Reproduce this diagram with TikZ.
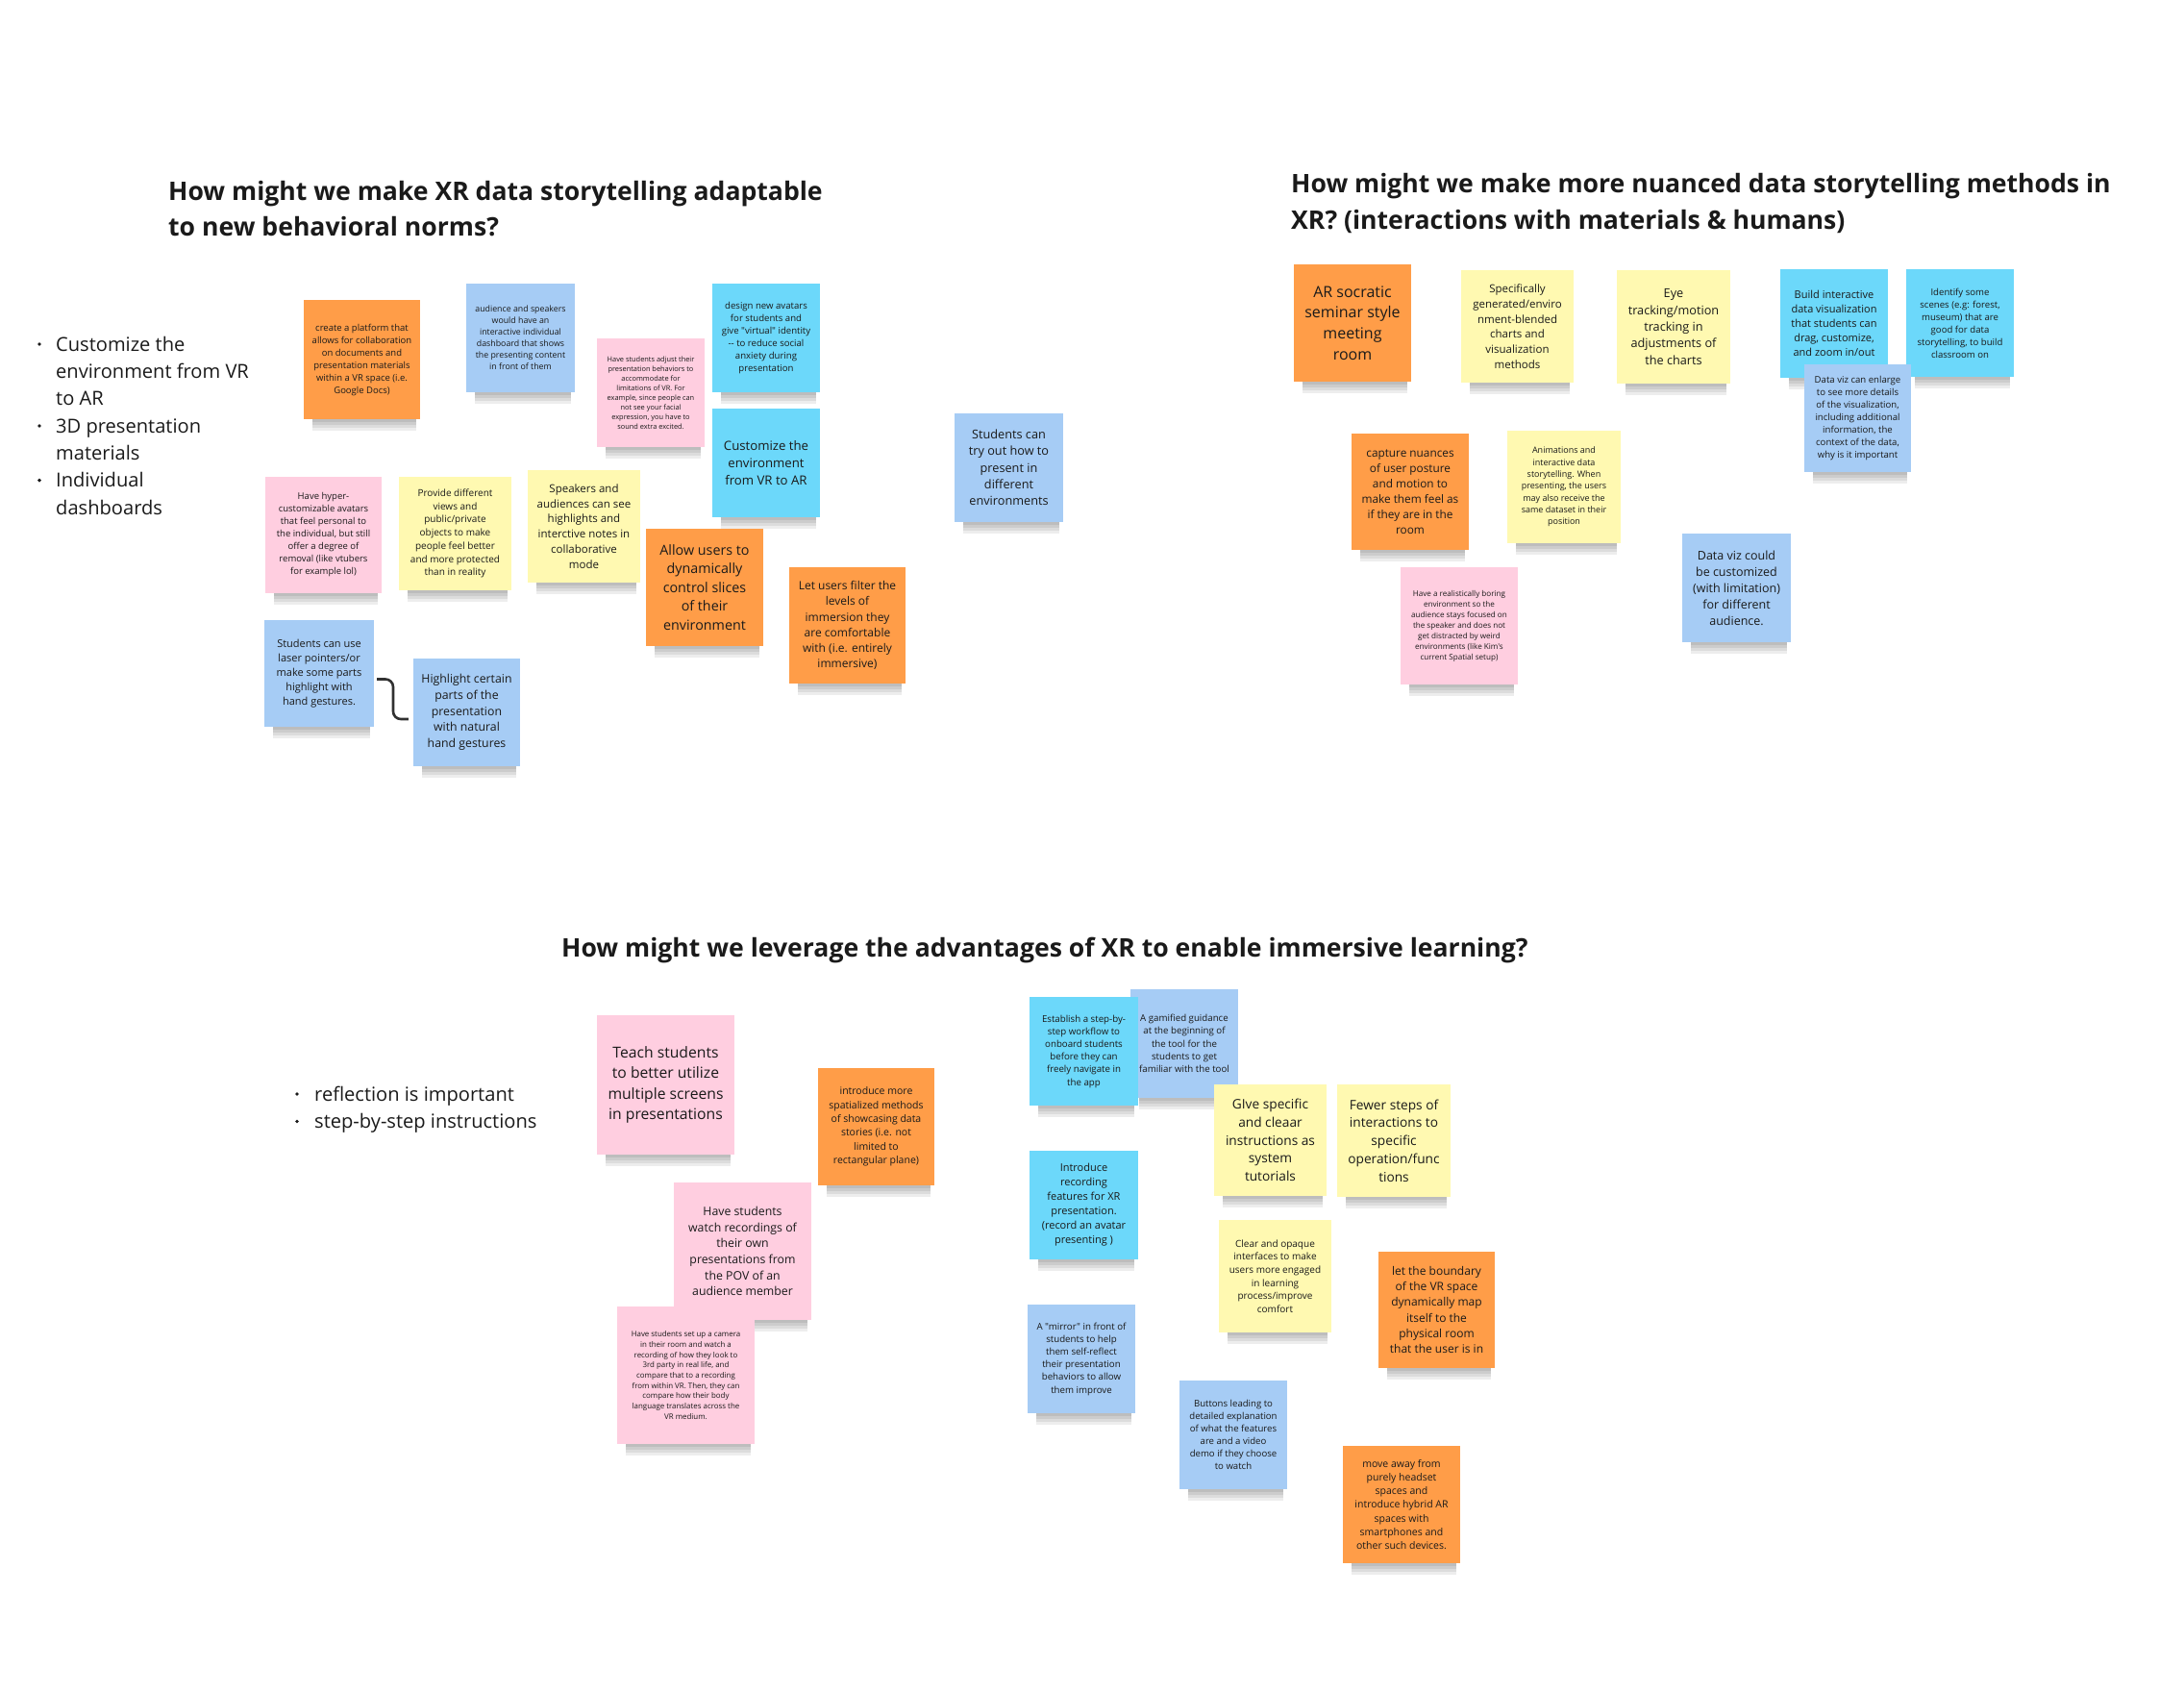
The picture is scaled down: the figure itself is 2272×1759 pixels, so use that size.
\documentclass[tikz,border=0pt]{standalone}
\usepackage{fontspec}
\newfontfamily\osans{Open Sans}
\definecolor{cOrange}{HTML}{FF9D48}
\definecolor{cYellow}{HTML}{FFF9B1}
\definecolor{cPink}{HTML}{FFCEE0}
\definecolor{cLBlue}{HTML}{A6CCF5}
\definecolor{cCyan}{HTML}{6CD8FA}
\definecolor{ink}{HTML}{1A1A1A}
\tikzset{
  fs/.style 2 args={font={\osans\fontsize{#1}{#2}\selectfont}},
  note/.style={rectangle, inner sep=2pt, align=center, text=ink},
  shadowband/.style={fill=black, opacity=0.07, draw=none},
  head/.style={anchor=base west, inner sep=0pt, text=ink, font={\osans\bfseries\fontsize{26.6}{35}\selectfont}},
  item/.style={anchor=base west, inner sep=0pt, text=ink, font={\osans\fontsize{20.1}{28}\selectfont}},
  bul/.style={circle, fill=ink, inner sep=0pt, minimum size=3.8pt},
  conn/.style={draw=ink!90, line width=2.6pt, rounded corners=8pt},
}
% shadow band below a note (drawn right after the note)
\newcommand\shd[1]{%
  \foreach \k in {3,6,9,12}{%
    \fill[shadowband] ([xshift=9pt]#1.south west) rectangle ([shift={(-4,\k)}]#1.south east);}}
\begin{document}
\begin{tikzpicture}[x=1pt, y=-1pt]
\useasboundingbox (0,0) rectangle (2272,1759);
\fill[white] (0,0) rectangle (2272,1759);

% ---------- headings ----------
\node[head] (h1a) at (175,208) {How might we make XR data storytelling adaptable};
\node[head] (h1b) at (175,245.5) {to new behavioral norms?};
\node[head] (h2a) at (1343,200.5) {How might we make more nuanced data storytelling methods in};
\node[head] (h2b) at (1343,238.3) {XR? (interactions with materials \& humans)};
\node[head] (h3) at (584,995) {How might we leverage the advantages of XR to enable immersive learning?};

% ---------- bullet lists ----------
\node[bul] (b1) at (41,358) {};
\node[bul] (b2) at (41,443) {};
\node[bul] (b3) at (41,499.6) {};
\node[item] (l1) at (58,365) {Customize the};
\node[item] (l2) at (58,393.3) {environment from VR};
\node[item] (l3) at (58,421.6) {to AR};
\node[item] (l4) at (58,450) {3D presentation};
\node[item] (l5) at (58,478.3) {materials};
\node[item] (l6) at (58,506.6) {Individual};
\node[item] (l7) at (58,535) {dashboards};

\node[bul] (b4) at (309,1138) {};
\node[bul] (b5) at (309,1166.5) {};
\node[item] (m1) at (327,1145) {reflection is important};
\node[item] (m2) at (327,1173.5) {step-by-step instructions};

% ---------- section 1 notes ----------
\node[note, fill=cOrange, minimum width=121pt, minimum height=124pt, fs={9.5}{13}] (n1) at (376.5,374)
  {create a platform that\\allows for collaboration\\on documents and\\presentation materials\\within a VR space (i.e.\\Google Docs)};
\shd{n1}
\node[note, fill=cLBlue, minimum width=113pt, minimum height=113pt, fs={8.8}{12}] (n2) at (541.5,351.5)
  {audience and speakers\\would have an\\interactive individual\\dashboard that shows\\the presenting content\\in front of them};
\shd{n2}
\node[note, fill=cPink, minimum width=121pt, minimum height=121pt, fs={9.5}{13}] (n3) at (336.5,556.5)
  {Have hyper-\\customizable avatars\\that feel personal to\\the individual, but still\\offer a degree of\\removal (like vtubers\\for example lol)};
\shd{n3}
\node[note, fill=cYellow, minimum width=117pt, minimum height=118pt, fs={10}{13.7}] (n4) at (473.5,555)
  {Provide different\\views and\\public/private\\objects to make\\people feel better\\and more protected\\than in reality};
\shd{n4}
\node[note, fill=cYellow, minimum width=117pt, minimum height=117pt, fs={11.5}{15.7}] (n5) at (607.5,547.5)
  {Speakers and\\audiences can see\\highlights and\\interctive notes in\\collaborative\\mode};
\shd{n5}
\node[note, fill=cPink, minimum width=112pt, minimum height=113pt, fs={7.4}{10}] (n6) at (677,408.5)
  {Have students adjust their\\presentation behaviors to\\accommodate for\\limitations of VR. For\\example, since people can\\not see your facial\\expression, you have to\\sound extra excited.};
\shd{n6}
\node[note, fill=cCyan, minimum width=112pt, minimum height=113pt, fs={9.6}{13}] (n7) at (797,351.5)
  {design new avatars\\for students and\\give "virtual" identity\\\mbox{-}\mbox{-} to reduce social\\anxiety during\\presentation};
\shd{n7}
\node[note, fill=cCyan, minimum width=112pt, minimum height=113pt, fs={13.2}{18}] (n8) at (797,481.5)
  {Customize the\\environment\\from VR to AR};
\shd{n8}
\node[note, fill=cOrange, minimum width=122pt, minimum height=122pt, fs={14.3}{19.5}] (n9) at (733,611)
  {Allow users to\\dynamically\\control slices\\of their\\environment};
\shd{n9}
\node[note, fill=cOrange, minimum width=121pt, minimum height=121pt, fs={12}{16.3}] (n10) at (881.5,650.5)
  {Let users filter the\\levels of\\immersion they\\are comfortable\\with (i.e. entirely\\immersive)};
\shd{n10}
\node[note, fill=cLBlue, minimum width=114pt, minimum height=111pt, fs={11}{15}] (n11) at (332,700.5)
  {Students can use\\laser pointers/or\\make some parts\\highlight with\\hand gestures.};
\shd{n11}
\node[note, fill=cLBlue, minimum width=111pt, minimum height=112pt, fs={12.3}{16.7}] (n12) at (485.5,741)
  {Highlight certain\\parts of the\\presentation\\with natural\\hand gestures};
\shd{n12}
\node[note, fill=cLBlue, minimum width=113pt, minimum height=113pt, fs={12.7}{17.3}] (n13) at (1049.5,486.5)
  {Students can\\try out how to\\present in\\different\\environments};
\shd{n13}

\coordinate (cmid) at (409,726);
\draw[conn] ([shift={(3,6)}]n11.east) -| (cmid) |- ([shift={(-5,7)}]n12.west);

% ---------- section 2 notes ----------
\node[note, fill=cOrange, minimum width=122pt, minimum height=122pt, fs={16}{21.7}] (n14) at (1407,336)
  {AR socratic\\seminar style\\meeting\\room};
\shd{n14}
\node[note, fill=cYellow, minimum width=117pt, minimum height=117pt, fs={11.5}{15.7}] (n15) at (1578.5,339.5)
  {Specifically\\generated/enviro\\nment-blended\\charts and\\visualization\\methods};
\shd{n15}
\node[note, fill=cYellow, minimum width=118pt, minimum height=118pt, fs={12.7}{17.3}] (n19) at (1741,340)
  {Eye\\tracking/motion\\tracking in\\adjustments of\\the charts};
\shd{n19}
\node[note, fill=cCyan, minimum width=112pt, minimum height=113pt, fs={11}{15}] (n20) at (1908,336.5)
  {Build interactive\\data visualization\\that students can\\drag, customize,\\and zoom in/out};
\shd{n20}
\node[note, fill=cCyan, minimum width=112pt, minimum height=112pt, fs={9.6}{13}] (n21) at (2039,336)
  {Identify some\\scenes (e.g: forest,\\museum) that are\\good for data\\storytelling, to build\\classroom on};
\shd{n21}
\node[note, fill=cLBlue, minimum width=111pt, minimum height=112pt, fs={9.6}{13}] (n22) at (1932.5,435)
  {Data viz can enlarge\\to see more details\\of the visualization,\\including additional\\information, the\\context of the data,\\why is it important};
\shd{n22}
\node[note, fill=cOrange, minimum width=122pt, minimum height=121pt, fs={11.8}{16}] (n16) at (1467,511.5)
  {capture nuances\\of user posture\\and motion to\\make them feel as\\if they are in the\\room};
\shd{n16}
\node[note, fill=cYellow, minimum width=118pt, minimum height=117pt, fs={9}{12.3}] (n17) at (1627,506.5)
  {Animations and\\interactive data\\storytelling. When\\presenting, the users\\may also receive the\\same dataset in their\\position};
\shd{n17}
\node[note, fill=cPink, minimum width=122pt, minimum height=122pt, fs={8.1}{11}] (n18) at (1518,651)
  {Have a realistically boring\\environment so the\\audience stays focused on\\the speaker and does not\\get distracted by weird\\environments (like Kim's\\current Spatial setup)};
\shd{n18}
\node[note, fill=cLBlue, minimum width=113pt, minimum height=113pt, fs={12.5}{17}] (n23) at (1806.5,611.5)
  {Data viz could\\be customized\\(with limitation)\\for different\\audience.};
\shd{n23}

% ---------- section 3 notes ----------
\node[note, fill=cPink, minimum width=143pt, minimum height=145pt, fs={15.7}{21.3}] (n24) at (692.5,1128.5)
  {Teach students\\to better utilize\\multiple screens\\in presentations};
\shd{n24}
\node[note, fill=cOrange, minimum width=121pt, minimum height=122pt, fs={10.5}{14.3}] (n25) at (911.5,1172)
  {introduce more\\spatialized methods\\of showcasing data\\stories (i.e. not\\limited to\\rectangular plane)};
\shd{n25}
\node[note, fill=cPink, minimum width=143pt, minimum height=143pt, fs={12.3}{16.7}] (n26) at (772.5,1301.5)
  {Have students\\watch recordings of\\their own\\presentations from\\the POV of an\\audience member};
\shd{n26}
\node[note, fill=cPink, minimum width=143pt, minimum height=143pt, fs={7.9}{10.7}] (n27) at (713.5,1430.5)
  {Have students set up a camera\\in their room and watch a\\recording of how they look to\\3rd party in real life, and\\compare that to a recording\\from within VR. Then, they can\\compare how their body\\language translates across the\\VR medium.};
\shd{n27}
\node[note, fill=cLBlue, minimum width=112pt, minimum height=113pt, fs={9.7}{13.2}] (n29) at (1232,1085.5)
  {A gamified guidance\\at the beginning of\\the tool for the\\students to get\\familiar with the tool};
\shd{n29}
\node[note, fill=cCyan, minimum width=113pt, minimum height=113pt, fs={9.7}{13.2}] (n28) at (1127.5,1093.5)
  {Establish a step-by-\\step workflow to\\onboard students\\before they can\\freely navigate in\\the app};
\shd{n28}
\node[note, fill=cCyan, minimum width=113pt, minimum height=113pt, fs={11}{15}] (n30) at (1127.5,1253.5)
  {Introduce\\recording\\features for XR\\presentation.\\(record an avatar\\presenting )};
\shd{n30}
\node[note, fill=cLBlue, minimum width=112pt, minimum height=113pt, fs={9.7}{13.2}] (n31) at (1125,1413.5)
  {A "mirror" in front of\\students to help\\them self-reflect\\their presentation\\behaviors to allow\\them improve};
\shd{n31}
\node[note, fill=cYellow, minimum width=117pt, minimum height=116pt, fs={13.7}{18.7}] (n33) at (1321.5,1186)
  {GIve specific\\and cleaar\\instructions as\\system\\tutorials};
\shd{n33}
\node[note, fill=cYellow, minimum width=118pt, minimum height=117pt, fs={13.7}{18.7}] (n34) at (1450,1186.5)
  {Fewer steps of\\interactions to\\specific\\operation/func\\tions};
\shd{n34}
\node[note, fill=cYellow, minimum width=117pt, minimum height=117pt, fs={10}{13.7}] (n35) at (1326.5,1327.5)
  {Clear and opaque\\interfaces to make\\users more engaged\\in learning\\process/improve\\comfort};
\shd{n35}
\node[note, fill=cOrange, minimum width=121pt, minimum height=121pt, fs={12}{16.3}] (n36) at (1494.5,1362.5)
  {let the boundary\\of the VR space\\dynamically map\\itself to the\\physical room\\that the user is in};
\shd{n36}
\node[note, fill=cLBlue, minimum width=112pt, minimum height=113pt, fs={9.6}{13}] (n32) at (1283,1492.5)
  {Buttons leading to\\detailed explanation\\of what the features\\are and a video\\demo if they choose\\to watch};
\shd{n32}
\node[note, fill=cOrange, minimum width=122pt, minimum height=122pt, fs={10.5}{14.3}] (n37) at (1458,1565)
  {move away from\\purely headset\\spaces and\\introduce hybrid AR\\spaces with\\smartphones and\\other such devices.};
\shd{n37}
\end{tikzpicture}
\end{document}
